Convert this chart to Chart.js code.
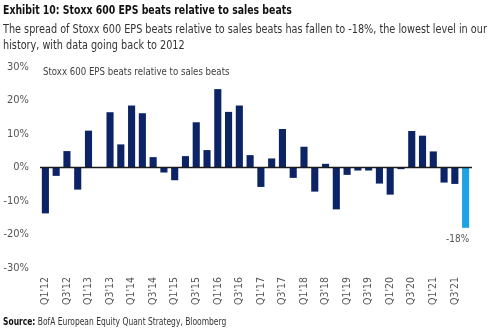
<!DOCTYPE html>
<html>
<head>
<meta charset="utf-8">
<script src="https://cdn.jsdelivr.net/npm/chart.js@4/dist/chart.umd.min.js"></script>
<style>
  html, body { margin: 0; padding: 0; background: #fff; }
  #wrap { position: relative; width: 500px; height: 329px; overflow: hidden; font-family: "Liberation Sans Narrow", "DejaVu Sans Condensed", sans-serif; }
  #chart { position: absolute; left: 0; top: 0; }
  .title { position: absolute; left: 3px; top: 3px; font-size: 12px; font-weight: bold; color: #111; white-space: nowrap; transform: scaleX(0.865); transform-origin: left top; }
  .sub { position: absolute; left: 3px; top: 21px; font-size: 12px; line-height: 16px; color: #333; width: 560px; white-space: nowrap; transform: scaleX(0.897); transform-origin: left top; }
  .src { position: absolute; left: 3px; top: 316px; font-size: 10px; color: #333; white-space: nowrap; transform: scaleX(0.84); transform-origin: left top; }
  .src b { color: #111; }
</style>
</head>
<body>
<div id="wrap">
  <canvas id="chart" width="500" height="329"></canvas>
  <div class="title">Exhibit 10: Stoxx 600 EPS beats relative to sales beats</div>
  <div class="sub">The spread of Stoxx 600 EPS beats relative to sales beats has fallen to -18%, the lowest level in our<br>history, with data going back to 2012</div>
  <div class="src"><b>Source:</b> BofA European Equity Quant Strategy, Bloomberg</div>
</div>
<script>
const quarters = [
  "Q1'12","Q2'12","Q3'12","Q4'12","Q1'13","Q2'13","Q3'13","Q4'13",
  "Q1'14","Q2'14","Q3'14","Q4'14","Q1'15","Q2'15","Q3'15","Q4'15",
  "Q1'16","Q2'16","Q3'16","Q4'16","Q1'17","Q2'17","Q3'17","Q4'17",
  "Q1'18","Q2'18","Q3'18","Q4'18","Q1'19","Q2'19","Q3'19","Q4'19",
  "Q1'20","Q2'20","Q3'20","Q4'20","Q1'21","Q2'21","Q3'21","Q4'21"
];
// EPS beats minus sales beats, percentage points
const spread = [
  -13.7, -2.5, 4.9, -6.6, 11.0, 0, 16.5, 6.9,
  18.5, 16.2, 3.1, -1.5, -3.8, 3.4, 13.5, 5.2,
  23.4, 16.6, 18.5, 3.7, -5.8, 2.7, 11.5, -3.1,
  6.2, -7.2, 1.1, -12.5, -2.2, -0.9, -0.9, -4.8,
  -8.1, -0.5, 10.9, 9.5, 4.8, -4.5, -4.9, -18
];
const yTicks = [-30, -20, -10, 0, 10, 20, 30];
const seriesName = "Stoxx 600 EPS beats relative to sales beats";

const NAVY = '#0c2466';
const LIGHT = '#1fa2e3';
const lastIdx = spread.length - 1;
const barColors = spread.map((v, i) => i === lastIdx ? LIGHT : NAVY);

const FONT = '"Liberation Sans Narrow", "DejaVu Sans Condensed", sans-serif';

const overlay = {
  id: 'overlay',
  afterDatasetsDraw(chart) {
    const { ctx, chartArea, scales } = chart;
    const y0 = scales.y.getPixelForValue(0);
    ctx.save();
    // zero line
    ctx.strokeStyle = '#1a1a1a';
    ctx.lineWidth = 1.3;
    ctx.beginPath();
    ctx.moveTo(chartArea.left, y0);
    ctx.lineTo(chartArea.right + 1, y0);
    ctx.stroke();
    // series caption inside the plot, set in a condensed width
    ctx.fillStyle = '#404040';
    ctx.font = '11px ' + FONT;
    ctx.textBaseline = 'middle';
    ctx.textAlign = 'left';
    ctx.save();
    ctx.translate(chartArea.left + 3, chartArea.top + 5);
    ctx.scale(0.87, 1);
    ctx.fillText(seriesName, 0, 0);
    ctx.restore();
    // value label on the latest bar
    const bar = chart.getDatasetMeta(0).data[lastIdx];
    ctx.fillStyle = '#555';
    ctx.font = '11px ' + FONT;
    ctx.textAlign = 'center';
    ctx.save();
    ctx.translate(bar.x - 8, bar.y + 11);
    ctx.scale(0.9, 1);
    ctx.fillText(spread[lastIdx] + '%', 0, 0);
    ctx.restore();
    ctx.restore();
  }
};

new Chart(document.getElementById('chart'), {
  type: 'bar',
  data: {
    labels: quarters,
    datasets: [{
      data: spread,
      backgroundColor: barColors,
      barPercentage: 0.66,
      categoryPercentage: 1.0,
      borderWidth: 0
    }]
  },
  options: {
    responsive: false,
    animation: false,
    devicePixelRatio: 1,
    layout: { padding: { top: 67, left: 0, right: 29, bottom: 0 } },
    plugins: { legend: { display: false }, tooltip: { enabled: false }, title: { display: false } },
    scales: {
      x: {
        grid: { display: false, drawTicks: false },
        border: { display: false },
        afterFit(scale) { scale.height = 61; },
        ticks: {
          autoSkip: false,
          maxRotation: 90,
          minRotation: 90,
          padding: 9,
          color: '#555',
          font: { size: 10.5, family: FONT },
          callback(value, index) { return index % 2 === 0 ? quarters[index] : ''; }
        }
      },
      y: {
        min: -30, max: 30,
        afterFit(scale) { scale.width = 40; },
        afterBuildTicks(scale) { scale.ticks = yTicks.map(v => ({ value: v })); },
        grid: { display: false, drawTicks: false },
        border: { display: false },
        ticks: {
          padding: 11,
          color: '#555',
          font: { size: 11, family: FONT },
          callback(v) { return v + '%'; }
        }
      }
    }
  },
  plugins: [overlay]
});
</script>
</body>
</html>
